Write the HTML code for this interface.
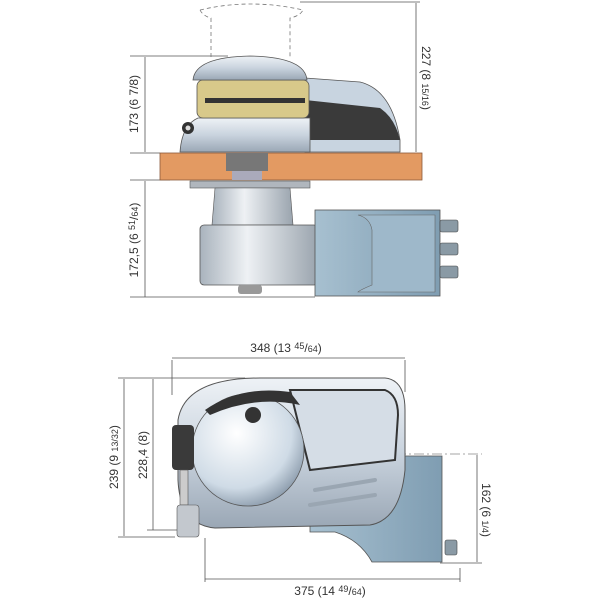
<!DOCTYPE html>
<html><head><meta charset="utf-8"><style>
html,body{margin:0;padding:0;background:#fff}
svg{display:block}
text{font-family:"Liberation Sans",sans-serif;fill:#333;font-size:12px}
</style></head><body>
<svg width="600" height="600" viewBox="0 0 600 600" xmlns="http://www.w3.org/2000/svg">
<defs>
<linearGradient id="silver" x1="0" y1="0" x2="0" y2="1"><stop offset="0" stop-color="#eef2f6"/><stop offset="0.5" stop-color="#c9d3de"/><stop offset="1" stop-color="#9aa7b5"/></linearGradient>
<linearGradient id="silverH" x1="0" y1="0" x2="1" y2="0"><stop offset="0" stop-color="#a9b3bd"/><stop offset="0.4" stop-color="#eef1f4"/><stop offset="1" stop-color="#9aa4ae"/></linearGradient>
<linearGradient id="blue" x1="0" y1="0" x2="1" y2="0"><stop offset="0" stop-color="#a7c0d0"/><stop offset="1" stop-color="#7f9db2"/></linearGradient>
<radialGradient id="drum" cx="0.4" cy="0.35" r="0.7"><stop offset="0" stop-color="#ffffff"/><stop offset="0.7" stop-color="#cfdbe6"/><stop offset="1" stop-color="#8797a8"/></radialGradient>
</defs>
<g stroke="#555" stroke-width="0.8" fill="none">
<line x1="300" y1="2" x2="420" y2="2"/>
<line x1="416" y1="3" x2="416" y2="152"/>
<line x1="130" y1="56" x2="228" y2="56"/>
<line x1="145" y1="57" x2="145" y2="152"/>
<line x1="130" y1="153" x2="160" y2="153"/>
<line x1="130" y1="180" x2="170" y2="180"/>
<line x1="145" y1="181" x2="145" y2="297"/>
<line x1="130" y1="297" x2="315" y2="297"/>
<line x1="172" y1="358" x2="405" y2="358"/>
<line x1="172" y1="360" x2="172" y2="395"/>
<line x1="405" y1="360" x2="405" y2="392"/>
<line x1="118" y1="378" x2="245" y2="378"/>
<line x1="124" y1="379" x2="124" y2="536"/>
<line x1="118" y1="537" x2="175" y2="537"/>
<line x1="153" y1="379" x2="153" y2="530"/>
<line x1="147" y1="530" x2="180" y2="530"/>
<line x1="477" y1="455" x2="477" y2="562"/>
<line x1="440" y1="563" x2="482" y2="563"/>
<line x1="205" y1="579" x2="460" y2="579"/>
<line x1="205" y1="538" x2="205" y2="582"/>
<line x1="460" y1="568" x2="460" y2="582"/>
<line x1="180" y1="454" x2="482" y2="454" stroke-dasharray="10 3 2 3" stroke="#888"/>
<g stroke-dasharray="4 3" stroke="#777">
<path d="M200 10 Q250 -2 303 10 Q300 16 290 18 L290 57 M200 10 Q203 16 211 18 L211 57"/>
</g>
</g>
<rect x="160" y="153" width="262" height="27" fill="#e39a62" stroke="#8a5a3a" stroke-width="0.8"/>
<rect x="226" y="153" width="42" height="18" fill="#777"/>
<rect x="232" y="171" width="30" height="9" fill="#aab"/>
<path d="M305 78 L360 82 Q392 90 400 140 L400 152 L305 152 Z" fill="#c8d4e0" stroke="#555" stroke-width="0.8"/>
<path d="M305 100 L380 108 Q395 118 400 140 L305 140 Z" fill="#3a3a3a"/>
<path d="M180 152 Q182 125 198 118 L310 118 L310 152 Z" fill="url(#silver)" stroke="#555" stroke-width="0.8"/>
<rect x="197" y="80" width="112" height="38" rx="6" fill="#d8c98a" stroke="#555" stroke-width="0.8"/>
<rect x="205" y="98" width="100" height="5" fill="#333"/>
<path d="M193 80 Q195 57 250 56 Q305 57 307 80 Z" fill="url(#silver)" stroke="#555" stroke-width="0.8"/>
<circle cx="188" cy="128" r="6" fill="#333"/><circle cx="188" cy="128" r="2.5" fill="#ddd"/>
<rect x="190" y="181" width="120" height="7" fill="#b0b6bd" stroke="#555" stroke-width="0.6"/>
<path d="M215 188 L290 188 L293 225 L212 225 Z" fill="url(#silverH)" stroke="#555" stroke-width="0.6"/>
<rect x="200" y="225" width="118" height="60" rx="4" fill="url(#silverH)" stroke="#555" stroke-width="0.8"/>
<rect x="238" y="285" width="24" height="9" rx="3" fill="#999"/>
<rect x="315" y="210" width="125" height="86" fill="url(#blue)" stroke="#555" stroke-width="0.8"/>
<path d="M358 215 Q370 218 372 230 L372 285 Q360 290 358 292 L435 292 L435 215 Z" fill="#9eb8ca" stroke="#666" stroke-width="0.6"/>
<g fill="#8a9aa5" stroke="#444" stroke-width="0.6">
<rect x="440" y="220" width="18" height="12" rx="2"/><rect x="440" y="243" width="18" height="12" rx="2"/><rect x="440" y="266" width="18" height="12" rx="2"/>
</g>
<path d="M400 456 L442 456 L442 562 L372 562 Q360 540 335 532 L310 532 L310 456 Z" fill="url(#blue)" stroke="#555" stroke-width="0.8"/>
<rect x="445" y="540" width="12" height="15" rx="2" fill="#8a9aa5" stroke="#444" stroke-width="0.6"/>
<path d="M178 420 Q185 378 260 378 L385 378 Q405 380 405 410 L405 470 Q400 520 370 525 L215 528 Q180 525 178 480 Z" fill="url(#silver)" stroke="#555" stroke-width="1"/>
<path d="M290 390 L385 390 Q398 395 398 415 L395 460 L310 470 Z" fill="#d5dde6" stroke="#333" stroke-width="2"/>
<circle cx="248" cy="450" r="56" fill="url(#drum)" stroke="#555" stroke-width="0.8"/>
<path d="M205 410 Q240 385 290 392 L300 405 Q255 395 210 415 Z" fill="#333"/>
<circle cx="253" cy="415" r="8" fill="#333"/>
<rect x="172" y="425" width="22" height="45" rx="4" fill="#3a3a3a"/>
<rect x="180" y="470" width="8" height="35" fill="#ccc" stroke="#555" stroke-width="0.6"/>
<rect x="177" y="505" width="22" height="32" rx="3" fill="#c3c8ce" stroke="#555" stroke-width="0.6"/>
<g stroke="#9aa6b2" stroke-width="4" stroke-linecap="round"><line x1="315" y1="490" x2="375" y2="480"/><line x1="310" y1="505" x2="375" y2="495"/></g>
<text transform="translate(138,104) rotate(-90)" text-anchor="middle" font-size="12">173 (6 7/8)</text>
<text transform="translate(138,240) rotate(-90)" text-anchor="middle" font-size="12">172,5 (6 <tspan font-size="9" dy="-3">51</tspan><tspan dy="3">/</tspan><tspan font-size="9">64</tspan>)</text>
<text transform="translate(422,78) rotate(90)" text-anchor="middle" font-size="12">227 (8 <tspan font-size="9">15/16</tspan>)</text>
<text x="286" y="352" text-anchor="middle" font-size="12">348 (13 <tspan font-size="9" dy="-3">45</tspan><tspan dy="3">/</tspan><tspan font-size="9">64</tspan>)</text>
<text transform="translate(118,457) rotate(-90)" text-anchor="middle" font-size="12">239 (9 <tspan font-size="9">13/32</tspan>)</text>
<text transform="translate(147,455) rotate(-90)" text-anchor="middle" font-size="12">228,4 (8)</text>
<text transform="translate(482,510) rotate(90)" text-anchor="middle" font-size="12">162 (6 <tspan font-size="9">1/4</tspan>)</text>
<text x="330" y="595" text-anchor="middle" font-size="12">375 (14 <tspan font-size="9" dy="-3">49</tspan><tspan dy="3">/</tspan><tspan font-size="9">64</tspan>)</text>
</svg>
</body></html>
